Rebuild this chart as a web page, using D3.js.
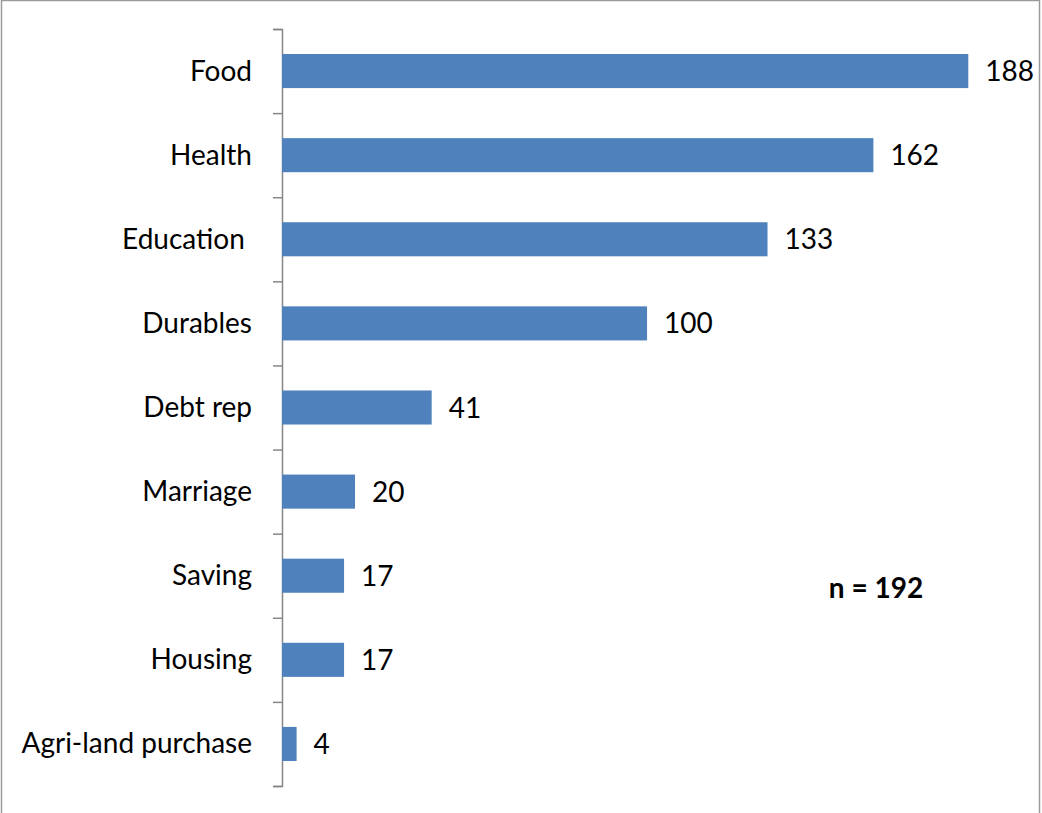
<!DOCTYPE html>
<html>
<head>
<meta charset="utf-8">
<script src="https://cdn.jsdelivr.net/npm/d3@7"></script>
<style>
  html, body { margin: 0; padding: 0; background: #fff; }
  svg { display: block; }
  text { font-family: Lato, "Open Sans", sans-serif; fill: #000; }
</style>
</head>
<body>
<script>
// Uses of funds, number of respondents (n = 192)
const categories = ["Food", "Health", "Education ", "Durables", "Debt rep", "Marriage", "Saving", "Housing", "Agri-land purchase"];
const counts = [188, 162, 133, 100, 41, 20, 17, 17, 4];
const sampleNote = "n = 192";

const width = 1042, height = 813;
const axisX = 282, plotTop = 29, plotBottom = 786;
const fontSize = 28;

const svg = d3.select("body").append("svg")
  .attr("width", width)
  .attr("height", height);

// outer frame (open at the bottom edge)
svg.append("path")
  .attr("d", `M1.5,${height} V0.5 H1039.5 V${height}`)
  .attr("fill", "none")
  .attr("stroke", "#9a9a9a")
  .attr("stroke-width", 1.5);

const x = d3.scaleLinear().domain([0, 188]).range([axisX, 968.3]);
const y = d3.scaleBand().domain(categories).range([plotTop, plotBottom]).paddingInner(0.595).paddingOuter(0.2975);

// category axis with ticks between bands
const yAxis = d3.axisLeft(d3.scaleLinear().domain([0, categories.length]).range([plotTop, plotBottom]))
  .tickValues(d3.range(categories.length + 1))
  .tickSize(9)
  .tickFormat("");
const gAxis = svg.append("g")
  .attr("transform", `translate(${axisX},0)`)
  .call(yAxis);
gAxis.select(".domain").attr("stroke", "#868686").attr("stroke-width", 1.5);
gAxis.selectAll(".tick line").attr("stroke", "#868686").attr("stroke-width", 1.5);

// category labels
svg.append("g").selectAll("text")
  .data(categories)
  .join("text")
  .attr("x", 252)
  .attr("y", d => y(d) + y.bandwidth() / 2 + 9.5)
  .attr("text-anchor", "end")
  .style("white-space", "pre")
  .attr("font-size", fontSize)
  .text(d => d);

// bars
svg.append("g").selectAll("rect")
  .data(counts)
  .join("rect")
  .attr("x", x(0))
  .attr("y", (d, i) => y(categories[i]))
  .attr("width", d => x(d) - x(0))
  .attr("height", y.bandwidth())
  .attr("fill", "#4F81BD");

// value labels
svg.append("g").selectAll("text")
  .data(counts)
  .join("text")
  .attr("x", d => x(d) + 17)
  .attr("y", (d, i) => y(categories[i]) + y.bandwidth() / 2 + 10)
  .attr("font-size", fontSize)
  .text(d => d);

// sample size note
svg.append("text")
  .attr("x", 876)
  .attr("y", 598)
  .attr("text-anchor", "middle")
  .attr("font-size", fontSize)
  .attr("font-weight", "bold")
  .text(sampleNote);
</script>
</body>
</html>
